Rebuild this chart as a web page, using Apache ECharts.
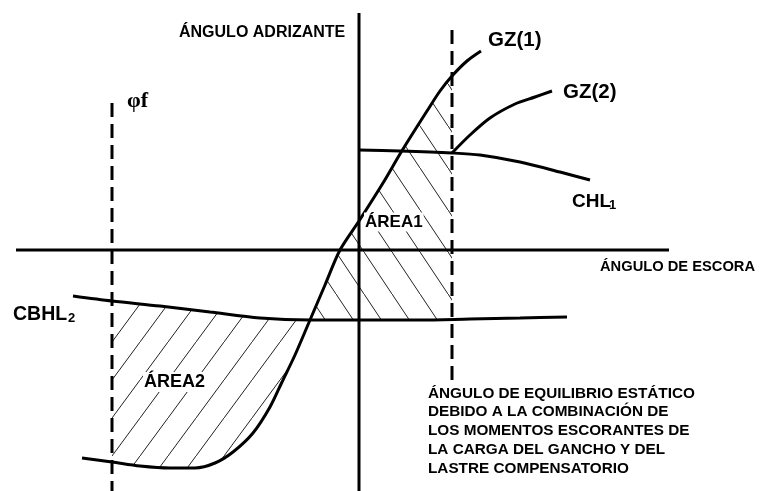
<!DOCTYPE html>
<html>
<head>
<meta charset="utf-8">
<script src="https://cdn.jsdelivr.net/npm/echarts@6/dist/echarts.min.js"></script>
<style>
  html, body { margin: 0; padding: 0; background: #fff; }
  #chart { width: 769px; height: 491px; }
</style>
</head>
<body>
<div id="chart"></div>
<script>
// Stability diagram: heel angle (x) against righting / heeling lever (y), schematic units.

// Righting lever curve GZ(1)
const gz1 = [
  [-55.4, -20.8], [-49.4, -21.2], [-43.8, -21.6], [-37.8, -21.8], [-32.8, -21.8],
  [-28.8, -21.3], [-25.2, -20.2], [-21.2, -18.3], [-17.8, -15.7], [-15.4, -13.2],
  [-12.8, -10.5], [-9.8, -7.0], [-6.8, -3.5], [-3.8, 0.0], [0.0, 2.9],
  [4.8, 6.7], [8.2, 9.6], [10.8, 11.7], [13.6, 13.9], [16.2, 15.9],
  [18.6, 17.4], [21.6, 18.9], [24.4, 19.9]
];
// Righting lever curve GZ(2), starting at the static equilibrium point
const gz2 = [[18.6, 9.7], [22.2, 11.5], [26.2, 13.2], [31.2, 14.6], [35.2, 15.3], [38.6, 15.9]];
// Crane hook load heeling lever CHL1
const chl1 = [[0.0, 10.0], [8.2, 9.9], [18.6, 9.7], [24.2, 9.5], [32.2, 8.8], [40.2, 7.8], [46.2, 7.0]];
// Counter-ballast heeling lever CBHL2
const cbhl2 = [
  [-57.2, -4.6], [-49.4, -5.1], [-39.8, -5.6], [-29.8, -6.2], [-19.8, -6.8],
  [-9.8, -7.0], [0.0, -7.0], [12.2, -7.0], [22.2, -6.9], [32.2, -6.8], [41.6, -6.7]
];
// Reference angles and axis extents
const phiF = -49.4;            // angle φf
const phiEq = 18.6;            // static equilibrium angle
const phiFSpan = [14.7, -24.1];
const phiEqSpan = [22.0, -13.0];
const heelAxisSpan = [-68.6, 62.0];
const rightingAxisSpan = [-24.1, 23.7];

// Linear interpolation of a polyline at x
function yAt(curve, x) {
  for (let i = 0; i < curve.length - 1; i++) {
    const [x0, y0] = curve[i], [x1, y1] = curve[i + 1];
    if (x >= x0 && x <= x1) return y0 + (y1 - y0) * (x - x0) / (x1 - x0);
  }
  return x < curve[0][0] ? curve[0][1] : curve[curve.length - 1][1];
}
// Where two polylines cross between lo and hi (bisection)
function crossing(a, b, lo, hi) {
  const f = x => yAt(a, x) - yAt(b, x);
  for (let k = 0; k < 60; k++) {
    const m = (lo + hi) / 2;
    if (f(lo) * f(m) <= 0) hi = m; else lo = m;
  }
  return (lo + hi) / 2;
}
const xCross = crossing(gz1, cbhl2, -20, 0);

// ÁREA1: between GZ(1) and the equilibrium angle, above CBHL2
const area1 = [[xCross, yAt(cbhl2, xCross)]]
  .concat(gz1.filter(p => p[0] > xCross && p[0] < phiEq))
  .concat([[phiEq, yAt(gz1, phiEq)], [phiEq, yAt(cbhl2, phiEq)]])
  .concat(cbhl2.filter(p => p[0] > xCross && p[0] < phiEq).reverse());
// ÁREA2: between CBHL2 and GZ(1), from φf to the crossing
const area2 = [[phiF, yAt(cbhl2, phiF)]]
  .concat(cbhl2.filter(p => p[0] > phiF && p[0] < xCross))
  .concat([[xCross, yAt(cbhl2, xCross)]])
  .concat(gz1.filter(p => p[0] > phiF && p[0] < xCross).reverse())
  .concat([[phiF, yAt(gz1, phiF)]]);

// Repeating hatch tile; dir '/' rises to the right, '\\' falls to the right
function hatchTile(w, h, dir) {
  const c = document.createElement('canvas');
  c.width = w; c.height = h;
  const g = c.getContext('2d');
  g.strokeStyle = '#222';
  g.lineWidth = 1;
  g.beginPath();
  if (dir === '/') { g.moveTo(-0.3 * w, 1.3 * h); g.lineTo(1.3 * w, -0.3 * h); }
  else { g.moveTo(-0.3 * w, -0.3 * h); g.lineTo(1.3 * w, 1.3 * h); }
  g.stroke();
  return c;
}
const hatchArea1 = { image: hatchTile(28, 42, '\\'), repeat: 'repeat' };
const hatchArea2 = { image: hatchTile(28, 38, '/'), repeat: 'repeat' };

const black = '#000';
function lineSeries(data, opts) {
  return Object.assign({
    type: 'line', data: data, symbol: 'none', clip: false, silent: true, z: 5,
    lineStyle: { color: black, width: 3 }
  }, opts || {});
}
function hatchSeries(poly, fill) {
  return {
    type: 'custom', coordinateSystem: 'cartesian2d', data: [[0, 0]], silent: true, z: 2,
    renderItem: (params, api) => ({
      type: 'polygon',
      shape: { points: poly.map(p => api.coord(p)) },
      style: { fill: fill, stroke: null }
    })
  };
}

const sans = size => `bold ${size}px "Liberation Sans", Arial, sans-serif`;
function label(text, x, y, size, extra) {
  return {
    type: 'text', x: x, y: y, z: 100, silent: true,
    style: Object.assign({
      text: text, font: sans(size), fill: black,
      textAlign: 'left', align: 'left', textVerticalAlign: 'middle', verticalAlign: 'middle'
    }, extra || {})
  };
}

const chart = echarts.init(document.getElementById('chart'), null, { renderer: 'canvas' });
chart.setOption({
  backgroundColor: '#fff',
  animation: false,
  grid: { left: 9, right: 0, top: 0, bottom: 1, containLabel: false },
  xAxis: { type: 'value', min: -70, max: 82, show: false },
  yAxis: { type: 'value', min: -24, max: 25, show: false },
  series: [
    hatchSeries(area1, hatchArea1),
    hatchSeries(area2, hatchArea2),
    lineSeries([[heelAxisSpan[0], 0], [heelAxisSpan[1], 0]]),
    lineSeries([[0, rightingAxisSpan[0]], [0, rightingAxisSpan[1]]]),
    lineSeries([[phiF, phiFSpan[0]], [phiF, phiFSpan[1]]], { lineStyle: { color: black, width: 3, type: [14, 7] } }),
    lineSeries([[phiEq, phiEqSpan[0]], [phiEq, phiEqSpan[1]]], { lineStyle: { color: black, width: 3, type: [14, 7] } }),
    lineSeries(gz1, { smooth: 0.3 }),
    lineSeries(gz2, { smooth: 0.3 }),
    lineSeries(chl1, { smooth: 0.3 }),
    lineSeries(cbhl2, { smooth: 0.3 })
  ],
  graphic: [
    label('ÁNGULO ADRIZANTE', 179, 33, 16),
    label('GZ(1)', 488, 40, 20.5),
    label('GZ(2)', 563, 92, 20.5),
    label('CHL', 572, 202, 19),
    label('1', 609, 205, 13),
    {
      type: 'text', x: 127, y: 101, z: 100, silent: true,
      style: {
        text: 'φf', font: 'bold 22px "Liberation Serif", "Times New Roman", serif', fill: black,
        textAlign: 'left', align: 'left', textVerticalAlign: 'middle', verticalAlign: 'middle'
      }
    },
    label('ÁREA1', 364, 222, 17, { backgroundColor: '#fff', padding: [1, 1, 1, 1] }),
    label('ÁNGULO DE ESCORA', 600, 267, 14.7),
    label('CBHL', 13, 315, 19.5),
    label('2', 68, 318, 13),
    label('ÁREA2', 143, 382, 18, { backgroundColor: '#fff', padding: [1, 1, 1, 1] }),
    label('ÁNGULO DE EQUILIBRIO ESTÁTICO\nDEBIDO A LA COMBINACIÓN DE\nLOS MOMENTOS ESCORANTES DE\nLA CARGA DEL GANCHO Y DEL\nLASTRE COMPENSATORIO',
      428, 431, 15.3, { lineHeight: 18.8 })
  ]
});
</script>
</body>
</html>
